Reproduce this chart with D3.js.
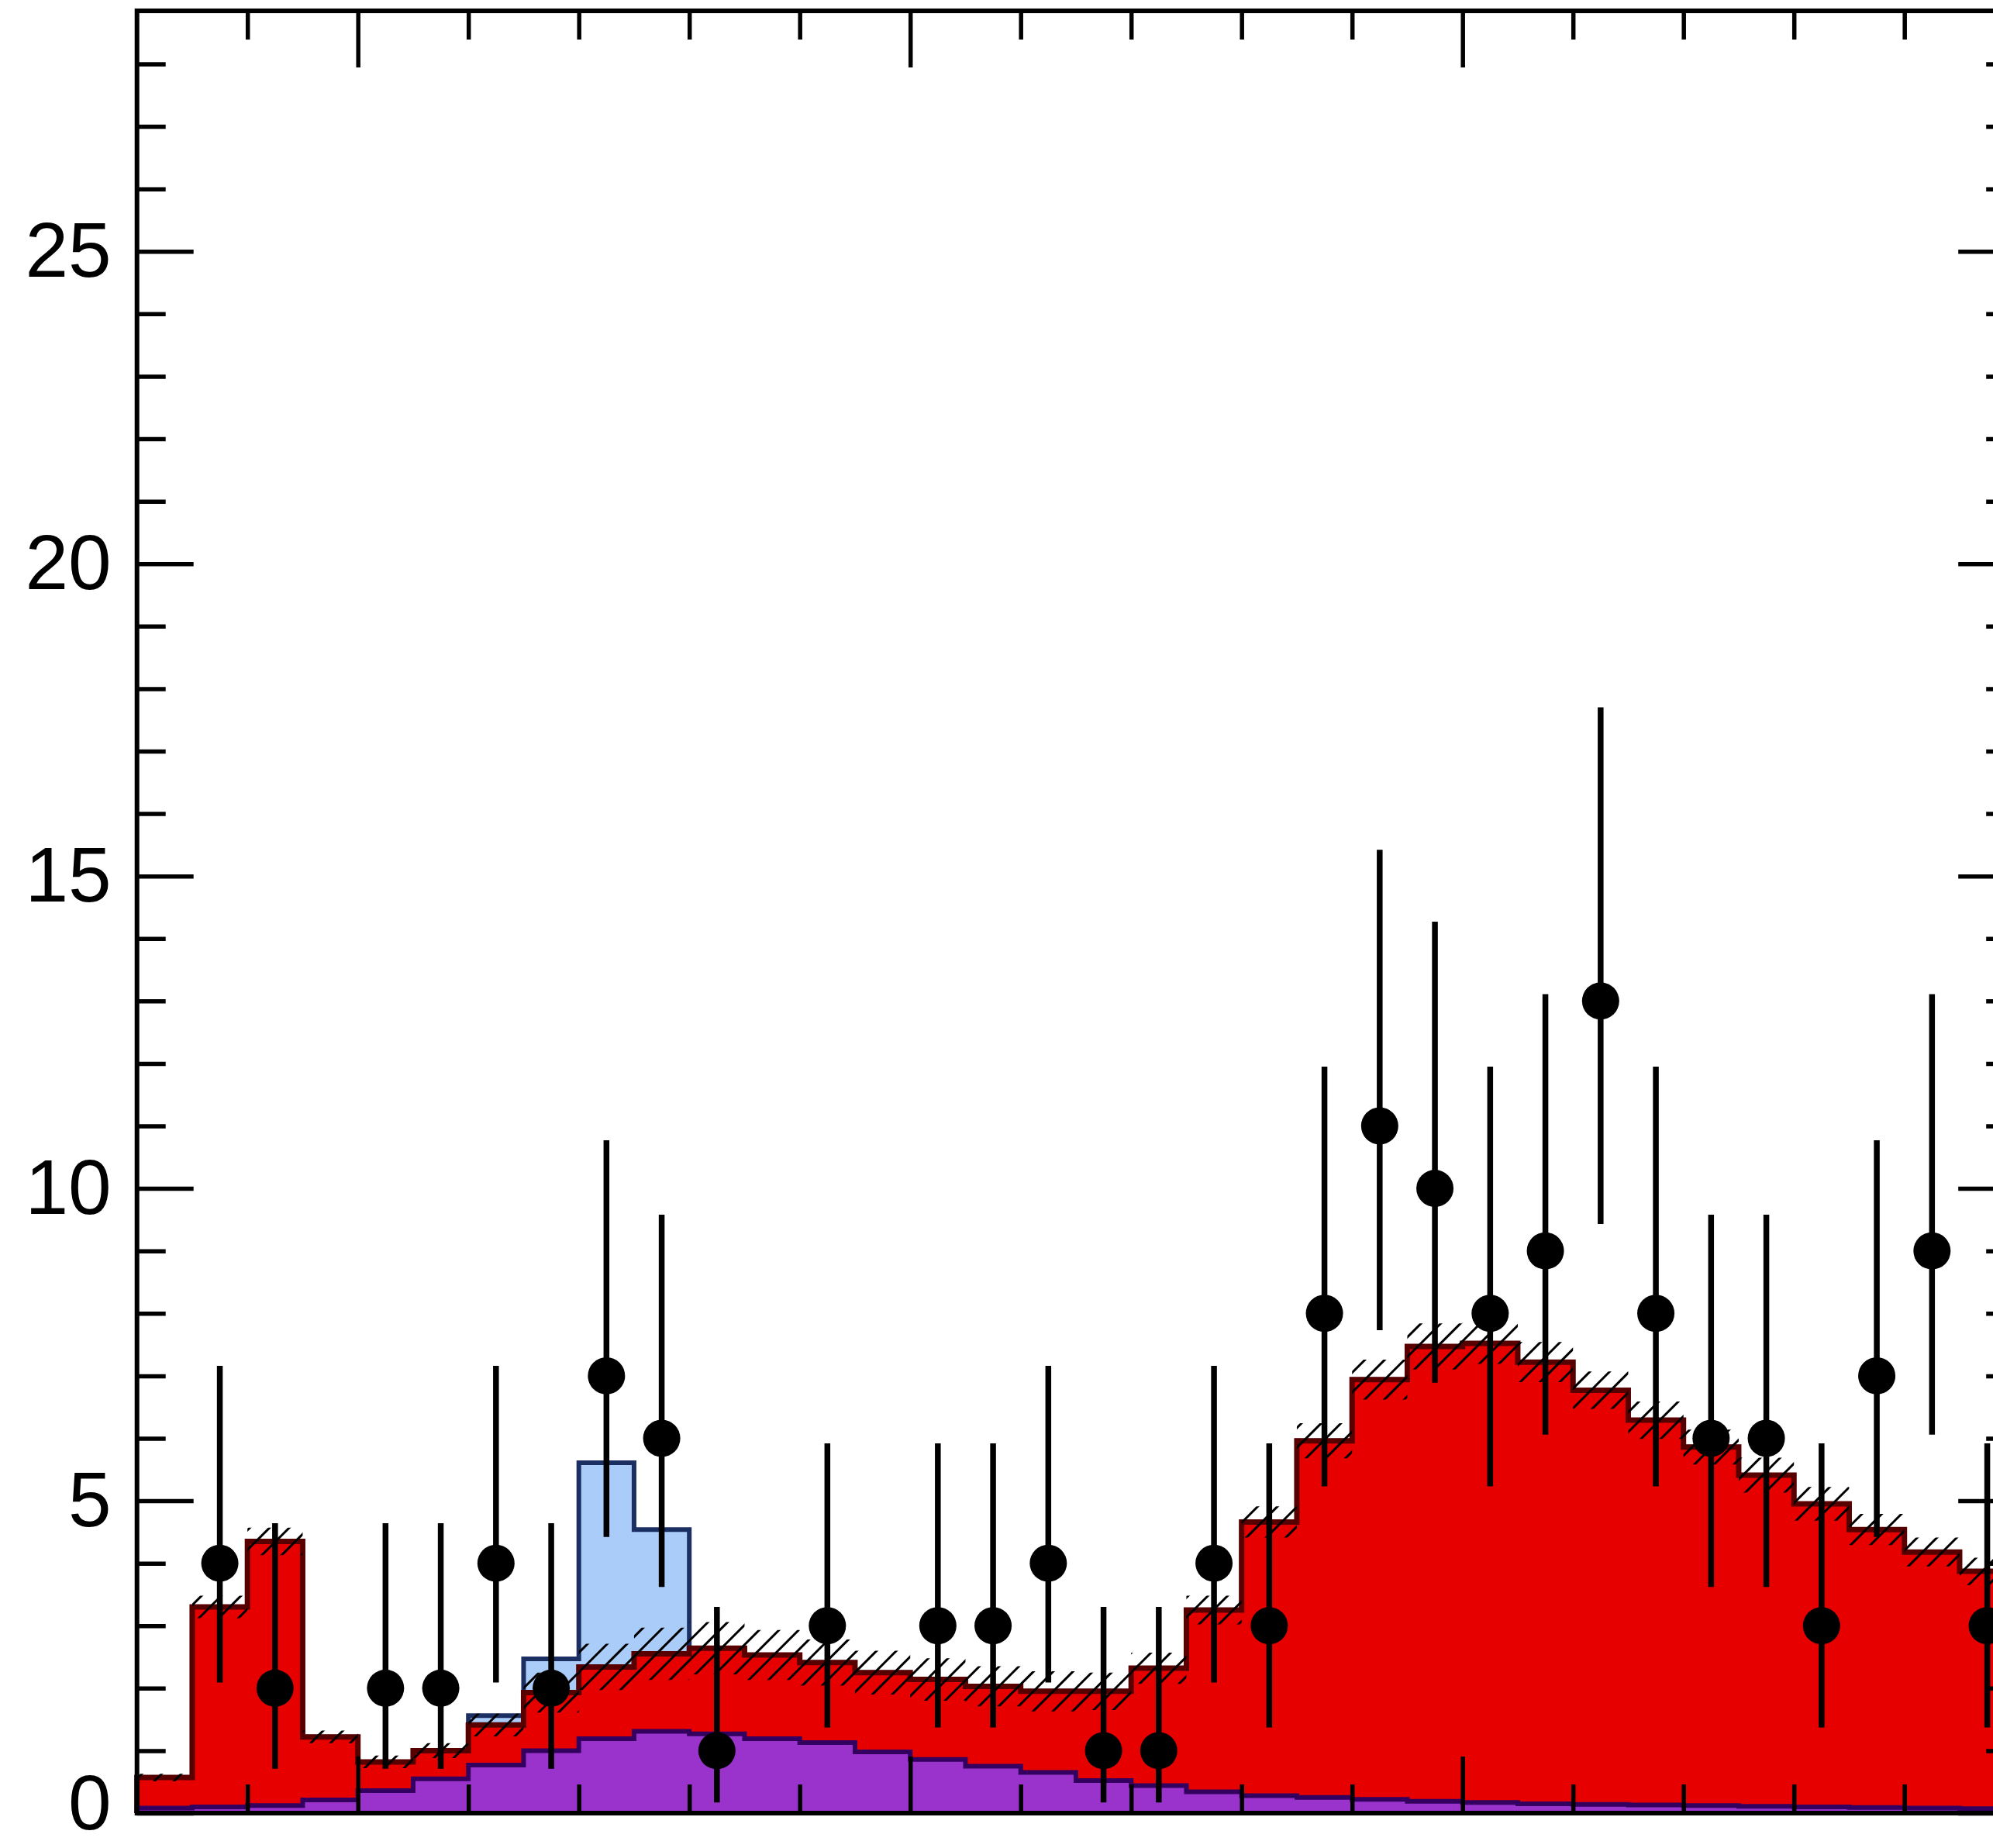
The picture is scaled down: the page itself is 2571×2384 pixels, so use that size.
<!DOCTYPE html>
<html lang="en">
<head>
    <meta charset="UTF-8">
    <title>Event yield histogram</title>
    <style>
        body {
            margin: 0;
            background-color: #fff;
        }

        svg {
            display: block;
        }

        .axis text {
            font-family: "Liberation Sans", Arial, Helvetica, sans-serif;
            font-size: 100px;
            fill: #000;
        }

        .axis line {
            stroke: #000;
            stroke-width: 5.5;
        }

        .axis path {
            display: none;
        }
    </style>
</head>
<body>
    <svg id="chart"></svg>

    <script src="https://cdnjs.cloudflare.com/ajax/libs/d3/7.8.5/d3.min.js"></script>
    <script>
        // 34 bins, values (bin index = position)
        const nBins = 34;

        // purple component (bottom of the stack)
        const purpleBkg = [0.08, 0.10, 0.12, 0.21, 0.36, 0.55, 0.77, 1.00, 1.19, 1.31,
                           1.27, 1.19, 1.13, 0.98, 0.86, 0.75, 0.65, 0.52, 0.44, 0.34,
                           0.28, 0.25, 0.22, 0.19, 0.17, 0.15, 0.14, 0.13, 0.12, 0.11,
                           0.10, 0.09, 0.08, 0.07];

        // total background (top of the red stack)
        const totalBkg = [0.57, 3.30, 4.35, 1.22, 0.82, 1.00, 1.41, 1.93, 2.34, 2.55,
                          2.64, 2.53, 2.41, 2.25, 2.14, 2.03, 1.95, 1.95, 2.32, 3.25,
                          4.66, 5.96, 6.94, 7.47, 7.52, 7.22, 6.77, 6.29, 5.86, 5.41,
                          4.95, 4.54, 4.18, 3.87];

        // half width of the hatched uncertainty band around the total background
        const bkgUnc = [0.06, 0.18, 0.22, 0.10, 0.10, 0.12, 0.18, 0.32, 0.37, 0.42,
                        0.42, 0.40, 0.37, 0.35, 0.34, 0.32, 0.32, 0.30, 0.25, 0.23,
                        0.25, 0.28, 0.32, 0.37, 0.33, 0.32, 0.30, 0.30, 0.28, 0.28,
                        0.27, 0.25, 0.23, 0.22];

        // light blue signal stacked on top of the background
        const signal = [0, 0, 0, 0, 0, 0, 0.15, 0.54, 3.27, 1.99,
                        0, 0, 0, 0, 0, 0, 0, 0, 0, 0,
                        0, 0, 0, 0, 0, 0, 0, 0, 0, 0,
                        0, 0, 0, 0];

        // observed data points
        const obsBins   = [1, 2, 4, 5, 6, 7, 8, 9, 10, 12, 14, 15, 16, 17, 18, 19, 20,
                           21, 22, 23, 24, 25, 26, 27, 28, 29, 30, 31, 32, 33];
        const obsCounts = [4, 2, 2, 2, 4, 2, 7, 6, 1, 3, 3, 3, 4, 1, 1, 4, 3,
                           8, 11, 10, 8, 9, 13, 8, 6, 6, 3, 7, 9, 3];
        const obsLow    = [2.09, 0.71, 0.71, 0.71, 2.09, 0.71, 4.42, 3.62, 0.17, 1.37,
                           1.37, 1.37, 2.09, 0.17, 0.17, 2.09, 1.37, 5.23, 7.73, 6.89,
                           5.23, 6.06, 9.43, 5.23, 3.62, 3.62, 1.37, 4.42, 6.06, 1.37];
        const obsHigh   = [7.16, 4.64, 4.64, 4.64, 7.16, 4.64, 10.77, 9.58, 3.30, 5.92,
                           5.92, 5.92, 7.16, 3.30, 3.30, 7.16, 5.92, 11.95, 15.42, 14.27,
                           11.95, 13.11, 17.70, 11.95, 9.58, 9.58, 5.92, 10.77, 13.11, 5.92];

        // ticks
        const yMajorTicks = [0, 5, 10, 15, 20, 25];
        const yMinorTicks = [1, 2, 3, 4, 6, 7, 8, 9, 11, 12, 13, 14, 16, 17, 18, 19,
                             21, 22, 23, 24, 26, 27, 28];
        const xMajorTicks = [4, 14, 24];
        const xMinorTicks = [2, 6, 8, 10, 12, 16, 18, 20, 22, 26, 28, 30, 32];
        const yMax = 28.85;

        const width = 2571, height = 2384;
        const frame = { left: 176.7, right: 2599.2, top: 14, bottom: 2339 };

        let svg = d3.select('#chart')
            .attr('width', width)
            .attr('height', height);

        let x = d3.scaleLinear()
            .domain([0, nBins])
            .range([frame.left, frame.right]);

        let y = d3.scaleLinear()
            .domain([0, yMax])
            .range([frame.bottom, frame.top]);

        // step vertices for a per-bin array
        function stepPoints (vals) {
            let pts = [];
            vals.forEach((v, i) => {
                pts.push([i, v]);
                pts.push([i + 1, v]);
            });
            return pts;
        }

        let area = d3.area()
            .x(d => x(d[0]))
            .y0(y(0))
            .y1(d => y(d[1]));

        let outline = d3.line()
            .x(d => x(d[0]))
            .y(d => y(d[1]));

        function drawHist (vals, fill, stroke, strokeWidth) {
            let pts = stepPoints(vals);
            svg.append('path')
                .attr('d', area(pts))
                .attr('fill', fill);
            // close the outline down to the baseline at both ends
            let line = [[0, 0]].concat(pts, [[nBins, 0]]);
            svg.append('path')
                .attr('d', outline(line))
                .attr('fill', 'none')
                .attr('stroke', stroke)
                .attr('stroke-width', strokeWidth)
                .attr('stroke-linejoin', 'miter');
        }

        let withSignal = totalBkg.map((v, i) => v + signal[i]);

        drawHist(withSignal, '#aaccf8', '#1b2f62', 6);
        drawHist(totalBkg, '#e60000', '#580000', 7);
        drawHist(purpleBkg, '#9933cc', '#33005f', 6);

        // hatched uncertainty band
        let defs = svg.append('defs');
        defs.append('pattern')
            .attr('id', 'hatch')
            .attr('patternUnits', 'userSpaceOnUse')
            .attr('width', 18)
            .attr('height', 18)
            .attr('patternTransform', 'rotate(45)')
            .append('line')
            .attr('x1', 0).attr('y1', 0)
            .attr('x2', 0).attr('y2', 18)
            .attr('stroke', '#000')
            .attr('stroke-width', 6);

        let bandPts = [];
        totalBkg.forEach((v, i) => {
            bandPts.push({ b: i, lo: v - bkgUnc[i], hi: v + bkgUnc[i] });
            bandPts.push({ b: i + 1, lo: v - bkgUnc[i], hi: v + bkgUnc[i] });
        });

        svg.append('path')
            .attr('d', d3.area()
                .x(d => x(d.b))
                .y0(d => y(d.lo))
                .y1(d => y(d.hi))(bandPts))
            .attr('fill', 'url(#hatch)');

        // axes: ticks point inwards on all four sides
        function addAxis (axis, transform) {
            svg.append('g')
                .attr('class', 'axis')
                .attr('transform', transform)
                .call(axis);
        }

        addAxis(d3.axisLeft(y).tickValues(yMajorTicks).tickSize(-73).tickPadding(33),
            `translate(${frame.left},0)`);
        addAxis(d3.axisLeft(y).tickValues(yMinorTicks).tickSize(-37).tickFormat(''),
            `translate(${frame.left},0)`);
        addAxis(d3.axisRight(y).tickValues(yMajorTicks).tickSize(-73).tickFormat(''),
            `translate(${frame.right},0)`);
        addAxis(d3.axisRight(y).tickValues(yMinorTicks).tickSize(-37).tickFormat(''),
            `translate(${frame.right},0)`);
        addAxis(d3.axisBottom(x).tickValues(xMajorTicks).tickSize(-73).tickFormat(''),
            `translate(0,${frame.bottom})`);
        addAxis(d3.axisBottom(x).tickValues(xMinorTicks).tickSize(-37).tickFormat(''),
            `translate(0,${frame.bottom})`);
        addAxis(d3.axisTop(x).tickValues(xMajorTicks).tickSize(-73).tickFormat(''),
            `translate(0,${frame.top})`);
        addAxis(d3.axisTop(x).tickValues(xMinorTicks).tickSize(-37).tickFormat(''),
            `translate(0,${frame.top})`);

        // the "0" label sits at the very bottom edge; lift it a little so it stays inside
        svg.selectAll('.axis text')
            .filter(d => d === 0)
            .attr('dy', '0.2em');

        svg.append('rect')
            .attr('x', frame.left)
            .attr('y', frame.top)
            .attr('width', frame.right - frame.left)
            .attr('height', frame.bottom - frame.top)
            .attr('fill', 'none')
            .attr('stroke', '#000')
            .attr('stroke-width', 6);

        // data points with error bars
        let points = obsBins.map((b, i) => ({
            cx: b + 0.5, n: obsCounts[i], lo: obsLow[i], hi: obsHigh[i]
        }));

        svg.append('g').selectAll('line')
            .data(points)
            .join('line')
            .attr('x1', d => x(d.cx))
            .attr('x2', d => x(d.cx))
            .attr('y1', d => y(d.lo))
            .attr('y2', d => y(d.hi))
            .attr('stroke', '#000')
            .attr('stroke-width', 7.5);

        svg.append('g').selectAll('circle')
            .data(points)
            .join('circle')
            .attr('cx', d => x(d.cx))
            .attr('cy', d => y(d.n))
            .attr('r', 24)
            .attr('fill', '#000');
    </script>
</body>
</html>
